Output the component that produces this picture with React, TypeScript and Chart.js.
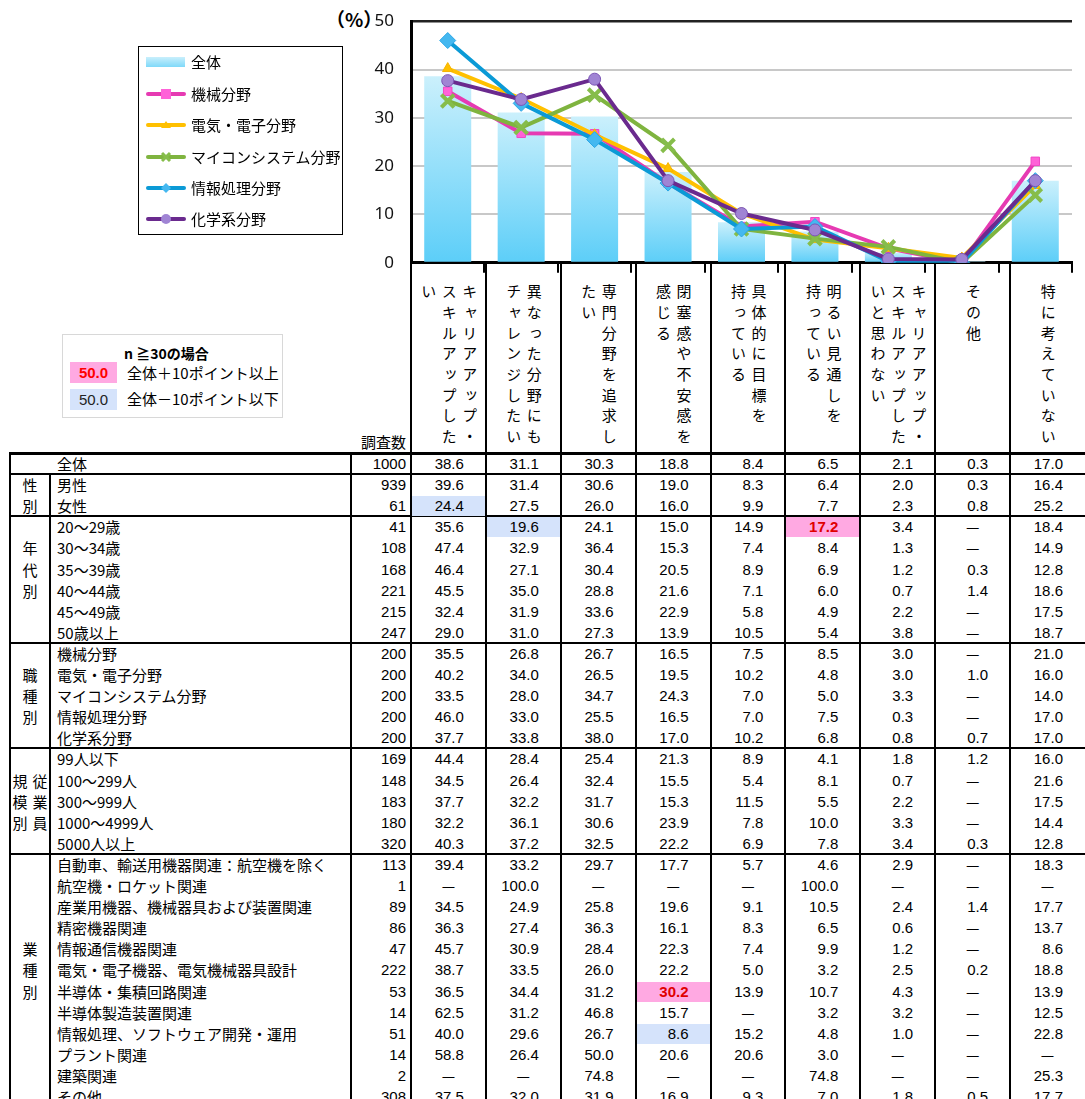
import React, { useEffect, useRef } from "react";
import { Chart, registerables } from "chart.js";

Chart.register(...registerables);

// ---------------- chart data ----------------
const categories = [
  "キャリアアップ・スキルアップしたい",
  "異なった分野にもチャレンジしたい",
  "専門分野を追求したい",
  "閉塞感や不安感を感じる",
  "具体的に目標を持っている",
  "明るい見通しを持っている",
  "キャリアアップ・スキルアップしたいと思わない",
  "その他",
  "特に考えていない",
];
const headerLines = [
  ["キャリアアップ・", "スキルアップした", "い"],
  ["異なった分野にも", "チャレンジしたい"],
  ["専門分野を追求し", "たい"],
  ["閉塞感や不安感を", "感じる"],
  ["具体的に目標を", "持っている"],
  ["明るい見通しを", "持っている"],
  ["キャリアアップ・", "スキルアップした", "いと思わない"],
  ["その他"],
  ["特に考えていない"],
];
const seriesNames = ["全体", "機械分野", "電気・電子分野", "マイコンシステム分野", "情報処理分野", "化学系分野"];
const overallValues = [38.6, 31.1, 30.3, 18.8, 8.4, 6.5, 2.1, 0.3, 17.0];
const kikaiValues = [35.5, 26.8, 26.7, 16.5, 7.5, 8.5, 3.0, 0, 21.0];
const denkiValues = [40.2, 34.0, 26.5, 19.5, 10.2, 4.8, 3.0, 1.0, 16.0];
const maikonValues = [33.5, 28.0, 34.7, 24.3, 7.0, 5.0, 3.3, 0, 14.0];
const johoValues = [46.0, 33.0, 25.5, 16.5, 7.0, 7.5, 0.3, 0, 17.0];
const kagakuValues = [37.7, 33.8, 38.0, 17.0, 10.2, 6.8, 0.8, 0.7, 17.0];
const yMin = 0;
const yMax = 50;
const yStep = 10;

// ---------------- table data ----------------
const rowLabels = [
  "全体",
  "男性", "女性",
  "20～29歳", "30～34歳", "35～39歳", "40～44歳", "45～49歳", "50歳以上",
  "機械分野", "電気・電子分野", "マイコンシステム分野", "情報処理分野", "化学系分野",
  "99人以下", "100～299人", "300～999人", "1000～4999人", "5000人以上",
  "自動車、輸送用機器関連：航空機を除く", "航空機・ロケット関連", "産業用機器、機械器具および装置関連",
  "精密機器関連", "情報通信機器関連", "電気・電子機器、電気機械器具設計", "半導体・集積回路関連",
  "半導体製造装置関連", "情報処理、ソフトウェア開発・運用", "プラント関連", "建築関連", "その他",
];
const rowCounts = [
  1000, 939, 61, 41, 108, 168, 221, 215, 247, 200, 200, 200, 200, 200,
  169, 148, 183, 180, 320, 113, 1, 89, 86, 47, 222, 53, 14, 51, 14, 2, 308,
];
const D = "—";
const rowValues = [
  ["38.6", "31.1", "30.3", "18.8", "8.4", "6.5", "2.1", "0.3", "17.0"],
  ["39.6", "31.4", "30.6", "19.0", "8.3", "6.4", "2.0", "0.3", "16.4"],
  ["24.4", "27.5", "26.0", "16.0", "9.9", "7.7", "2.3", "0.8", "25.2"],
  ["35.6", "19.6", "24.1", "15.0", "14.9", "17.2", "3.4", D, "18.4"],
  ["47.4", "32.9", "36.4", "15.3", "7.4", "8.4", "1.3", D, "14.9"],
  ["46.4", "27.1", "30.4", "20.5", "8.9", "6.9", "1.2", "0.3", "12.8"],
  ["45.5", "35.0", "28.8", "21.6", "7.1", "6.0", "0.7", "1.4", "18.6"],
  ["32.4", "31.9", "33.6", "22.9", "5.8", "4.9", "2.2", D, "17.5"],
  ["29.0", "31.0", "27.3", "13.9", "10.5", "5.4", "3.8", D, "18.7"],
  ["35.5", "26.8", "26.7", "16.5", "7.5", "8.5", "3.0", D, "21.0"],
  ["40.2", "34.0", "26.5", "19.5", "10.2", "4.8", "3.0", "1.0", "16.0"],
  ["33.5", "28.0", "34.7", "24.3", "7.0", "5.0", "3.3", D, "14.0"],
  ["46.0", "33.0", "25.5", "16.5", "7.0", "7.5", "0.3", D, "17.0"],
  ["37.7", "33.8", "38.0", "17.0", "10.2", "6.8", "0.8", "0.7", "17.0"],
  ["44.4", "28.4", "25.4", "21.3", "8.9", "4.1", "1.8", "1.2", "16.0"],
  ["34.5", "26.4", "32.4", "15.5", "5.4", "8.1", "0.7", D, "21.6"],
  ["37.7", "32.2", "31.7", "15.3", "11.5", "5.5", "2.2", D, "17.5"],
  ["32.2", "36.1", "30.6", "23.9", "7.8", "10.0", "3.3", D, "14.4"],
  ["40.3", "37.2", "32.5", "22.2", "6.9", "7.8", "3.4", "0.3", "12.8"],
  ["39.4", "33.2", "29.7", "17.7", "5.7", "4.6", "2.9", D, "18.3"],
  [D, "100.0", D, D, D, "100.0", D, D, D],
  ["34.5", "24.9", "25.8", "19.6", "9.1", "10.5", "2.4", "1.4", "17.7"],
  ["36.3", "27.4", "36.3", "16.1", "8.3", "6.5", "0.6", D, "13.7"],
  ["45.7", "30.9", "28.4", "22.3", "7.4", "9.9", "1.2", D, "8.6"],
  ["38.7", "33.5", "26.0", "22.2", "5.0", "3.2", "2.5", "0.2", "18.8"],
  ["36.5", "34.4", "31.2", "30.2", "13.9", "10.7", "4.3", D, "13.9"],
  ["62.5", "31.2", "46.8", "15.7", D, "3.2", "3.2", D, "12.5"],
  ["40.0", "29.6", "26.7", "8.6", "15.2", "4.8", "1.0", D, "22.8"],
  ["58.8", "26.4", "50.0", "20.6", "20.6", "3.0", D, D, D],
  [D, D, "74.8", D, D, "74.8", D, D, "25.3"],
  ["37.5", "32.0", "31.9", "16.9", "9.3", "7.0", "1.8", "0.5", "17.7"],
];
const highCells = [[3, 5], [25, 3]];
const lowCells = [[2, 0], [3, 1], [27, 3]];
const sectionStarts = [0, 1, 3, 9, 14, 19];
const sectionLabelCols = [[], ["性別"], ["年代別"], ["職種別"], ["従業員", "規模別"], ["業種別"]];
const sectionLabelRow = [0, 0, 1, 1, 1, 4];

// ---------------- layout ----------------
const JP = '"Noto Sans CJK JP", "Noto Sans", sans-serif';
const NUM = '"Liberation Sans", Arial, sans-serif';
const PLOT_L = 411;
const PLOT_R = 1085;
const COL_W = (PLOT_R - PLOT_L) / 9;
const TABLE_TOP = 453;
const ROW_H = 21.1;
const colX = (i: number) => PLOT_L + i * COL_W;
const rowY = (i: number) => TABLE_TOP + i * ROW_H;
const CANVAS_TOP = -6;

const seriesStyles = [
  { color: "#E63AB2", fill: "#FF62D8", point: "rect", r: 6, bw: 1, pb: "#F048C6" },
  { color: "#FFC000", fill: "#FFC000", point: "triangle", r: 6, bw: 1, pb: "#F5B400" },
  { color: "#7FB43F", fill: "#86BD4B", point: "crossRot", r: 9, bw: 4, pb: "#86BD4B" },
  { color: "#0B9AD6", fill: "#45B8F0", point: "rectRot", r: 8, bw: 1, pb: "#2AA6E6" },
  { color: "#6A2A8E", fill: "#A084D4", point: "circle", r: 6, bw: 1, pb: "#7B55B5" },
];

function LegendMarker({ idx }: { idx: number }) {
  const s = seriesStyles[idx];
  let m: any = null;
  if (s.point === "rect") m = <rect x={15} y={-1} width={10} height={10} fill={s.fill} />;
  if (s.point === "triangle") m = <polygon points="20,0 25,7 15,7" fill={s.fill} />;
  if (s.point === "crossRot")
    m = (
      <g stroke={s.fill} strokeWidth={3}>
        <line x1={16} y1={0} x2={24} y2={8} />
        <line x1={24} y1={0} x2={16} y2={8} />
      </g>
    );
  if (s.point === "rectRot") m = <polygon points="20,-1 25,4 20,9 15,4" fill={s.fill} />;
  if (s.point === "circle") m = <circle cx={20} cy={4} r={5} fill={s.fill} />;
  return (
    <svg width={40} height={12} viewBox="0 -2 40 12" style={{ position: "absolute", left: 146, overflow: "visible" }}>
      <line x1={2} y1={4} x2={38} y2={4} stroke={s.color} strokeWidth={4} strokeLinecap="round" />
      {m}
    </svg>
  );
}

export default function App() {
  const canvasRef = useRef<HTMLCanvasElement | null>(null);

  useEffect(() => {
    const canvas = canvasRef.current;
    if (!canvas) return;
    const lineData = [kikaiValues, denkiValues, maikonValues, johoValues, kagakuValues];
    const lineDatasets = lineData.map((d, i) => {
      const s = seriesStyles[i];
      return {
        type: "line" as const,
        label: seriesNames[i + 1],
        data: d,
        borderColor: s.color,
        backgroundColor: s.fill,
        borderWidth: 4,
        tension: 0,
        pointStyle: s.point,
        pointRadius: s.r,
        pointBackgroundColor: s.fill,
        pointBorderColor: s.pb,
        pointBorderWidth: s.bw,
        order: 5 - i,
      };
    });
    const chart = new Chart(canvas, {
      type: "bar",
      data: {
        labels: categories,
        datasets: [
          ...lineDatasets,
          {
            type: "bar" as const,
            label: seriesNames[0],
            data: overallValues,
            backgroundColor: (ctx: any) => {
              const ch = ctx.chart;
              if (!ch.chartArea || ctx.raw === undefined) return "#8FDDF9";
              const ys = ch.scales.y;
              const top = ys.getPixelForValue(ctx.raw);
              const bottom = ys.getPixelForValue(0);
              if (!isFinite(top) || !isFinite(bottom) || bottom - top < 1) return "#C9EFFC";
              const g = ch.ctx.createLinearGradient(0, top, 0, bottom);
              g.addColorStop(0, "#CBF0FC");
              g.addColorStop(1, "#5CCEF8");
              return g;
            },
            barPercentage: 0.64,
            categoryPercentage: 1,
            order: 10,
          },
        ],
      } as any,
      options: {
        animation: false,
        responsive: false,
        maintainAspectRatio: false,
        layout: { padding: { top: 10, left: 0, right: 0, bottom: 0 } },
        plugins: { legend: { display: false }, tooltip: { enabled: false } },
        scales: {
          x: {
            grid: { offset: true, drawOnChartArea: false, drawTicks: true, tickLength: 10, color: "#000", lineWidth: 2 },
            ticks: { display: false },
            border: { display: true, color: "#000", width: 3 },
          },
          y: {
            min: yMin,
            max: yMax,
            ticks: { stepSize: yStep, padding: 17, color: "#111", font: { size: 17, family: '"Noto Sans", sans-serif' } },
            grid: {
              drawTicks: false,
              color: (c: any) => (c.tick && c.tick.value === yMax ? "#222" : c.tick && c.tick.value === 0 ? "#000" : "#C8C8C8"),
              lineWidth: (c: any) => (c.tick && c.tick.value === yMax ? 2.5 : 2),
            },
            border: { display: true, color: "#000", width: 3 },
            afterFit: (s: any) => {
              s.width = 81;
            },
          },
        },
      } as any,
    });
    return () => chart.destroy();
  }, []);

  const abs = (style: React.CSSProperties): React.CSSProperties => ({ position: "absolute", ...style });
  const isIn = (list: number[][], r: number, c: number) => list.some(([a, b]) => a === r && b === c);
  const tableBottom = 1099;

  const lines: React.ReactNode[] = [];
  lines.push(<div key="v10" style={abs({ left: 9, top: TABLE_TOP, width: 2, height: tableBottom - TABLE_TOP, background: "#000" })} />);
  lines.push(<div key="v50" style={abs({ left: 49, top: rowY(1), width: 2, height: tableBottom - rowY(1), background: "#000" })} />);
  lines.push(<div key="v351" style={abs({ left: 350, top: TABLE_TOP, width: 2, height: tableBottom - TABLE_TOP, background: "#000" })} />);
  for (let i = 0; i < 9; i++) {
    const x = colX(i);
    lines.push(<div key={"vc" + i} style={abs({ left: x - 1, top: 262, width: 2, height: tableBottom - 262, background: "#000" })} />);
  }
  lines.push(<div key="htop" style={abs({ left: 9, top: TABLE_TOP - 1, width: 1085 - 9, height: 3, background: "#000" })} />);
  sectionStarts.slice(1).forEach((s, i) => {
    lines.push(<div key={"hs" + i} style={abs({ left: 9, top: rowY(s) - 1, width: 1085 - 9, height: 2, background: "#000" })} />);
  });

  const cells: React.ReactNode[] = [];
  rowLabels.forEach((label, r) => {
    const top = rowY(r);
    cells.push(
      <div key={"l" + r} style={abs({ left: 57, top, height: ROW_H, lineHeight: ROW_H + "px", fontSize: 15, fontFamily: JP, whiteSpace: "nowrap" })}>
        {label}
      </div>
    );
    cells.push(
      <div key={"n" + r} style={abs({ left: 352, width: 54, top, height: ROW_H, lineHeight: ROW_H + "px", fontSize: 15, fontFamily: NUM, textAlign: "right" })}>
        {rowCounts[r]}
      </div>
    );
    rowValues[r].forEach((v, c) => {
      const hi = isIn(highCells, r, c);
      const lo = isIn(lowCells, r, c);
      const left = colX(c) + 1;
      const width = COL_W - 2;
      if (hi || lo) {
        cells.push(<div key={"bg" + r + "_" + c} style={abs({ left, top: top + 1, width, height: ROW_H - 1, background: hi ? "#FFA9E2" : "#D5E3FB" })} />);
      }
      const dash = v === D;
      cells.push(
        <div
          key={"v" + r + "_" + c}
          style={abs({
            left,
            top,
            width,
            height: ROW_H,
            lineHeight: ROW_H + "px",
            fontSize: 15,
            fontFamily: dash ? JP : NUM,
            fontWeight: hi ? 700 : 400,
            color: hi ? "#E00000" : "#000",
            textAlign: dash ? "center" : "right",
            paddingRight: dash ? 0 : 21,
            boxSizing: "border-box",
          })}
        >
          {v}
        </div>
      );
    });
  });

  const groupLabels: React.ReactNode[] = [];
  sectionStarts.forEach((s, si) => {
    const cols = sectionLabelCols[si];
    cols.forEach((text, k) => {
      const cx = cols.length === 1 ? 30 : k === 0 ? 40 : 20;
      Array.from(text).forEach((ch, j) => {
        const r = s + sectionLabelRow[si] + j;
        groupLabels.push(
          <div key={"g" + si + "_" + k + "_" + j} style={abs({ left: cx - 9, width: 18, top: rowY(r), height: ROW_H, lineHeight: ROW_H + "px", textAlign: "center", fontSize: 15, fontFamily: JP })}>
            {ch}
          </div>
        );
      });
    });
  });

  const headers = headerLines.map((ls, i) => (
    <div key={"h" + i} style={abs({ left: colX(i), width: COL_W, top: 284, display: "flex", justifyContent: "center" })}>
      <div style={{ writingMode: "vertical-rl", fontSize: 15, lineHeight: "20.5px", letterSpacing: "5.7px", fontFamily: JP, color: "#000", whiteSpace: "nowrap" }}>
        {ls.map((t, j) => (
          <React.Fragment key={j}>
            {t}
            {j < ls.length - 1 ? <br /> : null}
          </React.Fragment>
        ))}
      </div>
    </div>
  ));

  const legendY = [62, 94, 125, 157, 188, 219];

  return (
    <div style={{ position: "absolute", left: 0, top: 0, width: 1085, height: 1099, overflow: "hidden", background: "#fff", color: "#000" }}>
      <div style={abs({ left: 326, top: 6, fontSize: 19, fontWeight: 700, fontFamily: JP, lineHeight: "26px", whiteSpace: "nowrap" })}>（%）</div>
      {headers}
      {lines}
      {groupLabels}
      {cells}
      <div style={abs({ left: 350, width: 56, top: 432, textAlign: "right", fontSize: 15, fontFamily: JP, lineHeight: "20px" })}>調査数</div>
      <canvas ref={canvasRef} width={755} height={296} style={abs({ left: 330, top: CANVAS_TOP, width: 755, height: 296 })} />
      <div style={abs({ left: 138, top: 46, width: 203, height: 187, border: "1px solid #000", background: "#fff" })} />
      {legendY.map((y, i) => (
        <div key={"lg" + i} style={abs({ left: 0, top: y - 10, height: 20, width: 340 })}>
          {i === 0 ? (
            <div style={abs({ left: 146, top: 5, width: 39, height: 10, background: "linear-gradient(#C9EFFC, #7FD9F9)" })} />
          ) : (
            <div style={abs({ left: 0, top: 4, width: 190, height: 12 })}>
              <LegendMarker idx={i - 1} />
            </div>
          )}
          <div style={abs({ left: 191, top: 0, lineHeight: "20px", fontSize: 15, fontFamily: JP, whiteSpace: "nowrap" })}>{seriesNames[i]}</div>
        </div>
      ))}
      <div style={abs({ left: 62, top: 334, width: 219, height: 82, border: "1px solid #D8D8D8", background: "#fff" })} />
      <div style={abs({ left: 124, top: 343, lineHeight: "20px", fontSize: 14, fontWeight: 700, fontFamily: JP })}>n ≧30の場合</div>
      <div style={abs({ left: 70, top: 362, width: 47, height: 21, background: "#FFA9E2", color: "#FF0000", fontWeight: 700, fontSize: 15, fontFamily: NUM, lineHeight: "21px", textAlign: "center" })}>50.0</div>
      <div style={abs({ left: 127, top: 363, lineHeight: "20px", fontSize: 15, fontFamily: JP, whiteSpace: "nowrap" })}>全体＋10ポイント以上</div>
      <div style={abs({ left: 70, top: 389, width: 47, height: 21, background: "#D5E3FB", color: "#222", fontSize: 15, fontFamily: NUM, lineHeight: "21px", textAlign: "center" })}>50.0</div>
      <div style={abs({ left: 127, top: 389, lineHeight: "20px", fontSize: 15, fontFamily: JP, whiteSpace: "nowrap" })}>全体－10ポイント以下</div>
    </div>
  );
}
